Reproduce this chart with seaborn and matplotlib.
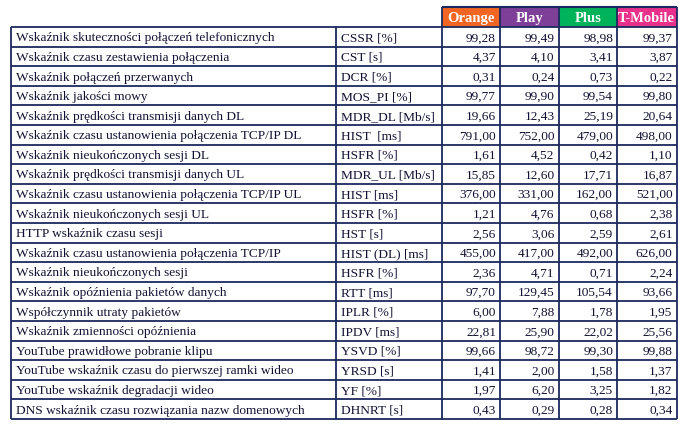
import matplotlib
matplotlib.use('Agg')
import matplotlib.pyplot as plt
import seaborn as sns

# table content
operators = ['Orange', 'Play', 'Plus', 'T-Mobile']
op_colors = ['#F26522', '#7D3F98', '#00B25A', '#E8318A']

indicators = [
    'Wskaźnik skuteczności połączeń telefonicznych',
    'Wskaźnik czasu zestawienia połączenia',
    'Wskaźnik połączeń przerwanych',
    'Wskaźnik jakości mowy',
    'Wskaźnik prędkości transmisji danych DL',
    'Wskaźnik czasu ustanowienia połączenia TCP/IP DL',
    'Wskaźnik nieukończonych sesji DL',
    'Wskaźnik prędkości transmisji danych UL',
    'Wskaźnik czasu ustanowienia połączenia TCP/IP UL',
    'Wskaźnik nieukończonych sesji UL',
    'HTTP wskaźnik czasu sesji',
    'Wskaźnik czasu ustanowienia połączenia TCP/IP',
    'Wskaźnik nieukończonych sesji',
    'Wskaźnik opóźnienia pakietów danych',
    'Współczynnik utraty pakietów',
    'Wskaźnik zmienności opóźnienia',
    'YouTube prawidłowe pobranie klipu',
    'YouTube wskaźnik czasu do pierwszej ramki wideo',
    'YouTube wskaźnik degradacji wideo',
    'DNS wskaźnik czasu rozwiązania nazw domenowych',
]

units = [
    'CSSR [%]', 'CST [s]', 'DCR [%]', 'MOS_PI [%]', 'MDR_DL [Mb/s]',
    'HIST  [ms]', 'HSFR [%]', 'MDR_UL [Mb/s]', 'HIST [ms]', 'HSFR [%]',
    'HST [s]', 'HIST (DL) [ms]', 'HSFR [%]', 'RTT [ms]', 'IPLR [%]',
    'IPDV [ms]', 'YSVD [%]', 'YRSD [s]', 'YF [%]', 'DHNRT [s]',
]

orange = [99.28, 4.37, 0.31, 99.77, 19.66, 791.00, 1.61, 15.85, 376.00, 1.21,
          2.56, 455.00, 2.36, 97.70, 6.00, 22.81, 99.66, 1.41, 1.97, 0.43]
play = [99.49, 4.10, 0.24, 99.90, 12.43, 752.00, 4.52, 12.60, 331.00, 4.76,
        3.06, 417.00, 4.71, 129.45, 7.88, 25.90, 98.72, 2.00, 6.20, 0.29]
plus = [98.98, 3.41, 0.73, 99.54, 25.19, 479.00, 0.42, 17.71, 162.00, 0.68,
        2.59, 492.00, 0.71, 105.54, 1.78, 22.02, 99.30, 1.58, 3.25, 0.28]
tmobile = [99.37, 3.87, 0.22, 99.80, 20.64, 498.00, 1.10, 16.87, 521.00, 2.38,
           2.61, 626.00, 2.24, 93.66, 1.95, 25.56, 99.88, 1.37, 1.82, 0.34]
values = [orange, play, plus, tmobile]

sns.set_theme(style='white')
plt.rcParams['font.family'] = ['Liberation Serif', 'DejaVu Serif']

fig = plt.figure(figsize=(6.87, 4.31), dpi=100)
ax = fig.add_axes([0, 0, 1, 1])
ax.set_xlim(0, 687)
ax.set_ylim(431, 0)
ax.axis('off')

line_col = '#1B2A5E'
text_col = '#111133'
col_edges = [10.5, 336, 442, 500, 558.5, 617, 676.5]
head_top, head_bot = 8, 28
row_h = (420 - head_bot) / len(indicators)

# header cells
for i, op in enumerate(operators):
    x0, x1 = col_edges[i + 2], col_edges[i + 3]
    ax.add_patch(plt.Rectangle((x0, head_top), x1 - x0, head_bot - head_top,
                               facecolor=op_colors[i], edgecolor='none'))
    ax.text((x0 + x1) / 2, (head_top + head_bot) / 2 + 0.5, op, color='white',
            fontsize=10.5, fontweight='bold', ha='center', va='center')

# body
fmt = lambda v: f'{v:.2f}'.replace('.', ',')
for r in range(len(indicators)):
    yc = head_bot + row_h * (r + 0.5) + 0.5
    ax.text(col_edges[0] + 5, yc, indicators[r], fontsize=9.6, color=text_col,
            ha='left', va='center')
    ax.text(col_edges[1] + 5, yc, units[r], fontsize=9.6, color=text_col,
            ha='left', va='center')
    for c in range(4):
        ax.text(col_edges[c + 3] - 4, yc, fmt(values[c][r]), fontsize=9.6,
                color=text_col, ha='right', va='center')

# grid lines
body_bot = head_bot + row_h * len(indicators)
ax.hlines(head_top, col_edges[2], col_edges[-1], color=line_col, lw=1.5)
for r in range(len(indicators) + 1):
    ax.hlines(head_bot + row_h * r, col_edges[0], col_edges[-1], color=line_col, lw=1.3)
ax.vlines(col_edges[:2], head_bot, body_bot, color=line_col, lw=1.3)
ax.vlines(col_edges[2:], head_top, body_bot, color=line_col, lw=1.3)

fig.savefig('out.png', dpi=100)
plt.close(fig)
